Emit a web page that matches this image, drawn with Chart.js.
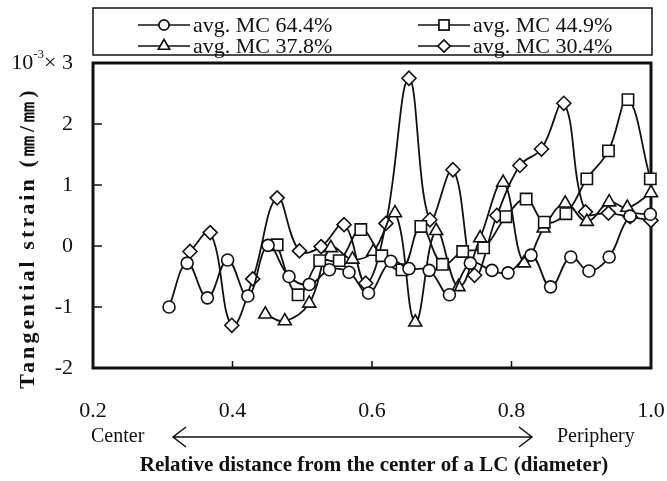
<!DOCTYPE html>
<html>
<head>
<meta charset="utf-8">
<script src="https://cdn.jsdelivr.net/npm/chart.js@4.4.1/dist/chart.umd.min.js"></script>
<style>
  html, body { margin:0; padding:0; background:#fff; }
  canvas { display:block; }
</style>
</head>
<body>
<canvas id="chart" width="667" height="481"></canvas>
<script>
// Tangential strain (x10^-3) vs relative distance
const seriesLabels = ['avg. MC 64.4%', 'avg. MC 44.9%', 'avg. MC 37.8%', 'avg. MC 30.4%'];

const mc644X = [0.309,0.335,0.364,0.393,0.422,0.451,0.481,0.510,0.539,0.567,0.595,0.627,0.653,0.682,0.711,0.741,0.772,0.795,0.828,0.856,0.885,0.911,0.940,0.970,0.999];
const mc644Y = [-1.00,-0.28,-0.85,-0.23,-0.82,0.01,-0.50,-0.63,-0.39,-0.43,-0.77,-0.25,-0.37,-0.40,-0.80,-0.28,-0.40,-0.44,-0.15,-0.67,-0.18,-0.41,-0.18,0.49,0.52];

const mc449X = [0.464,0.494,0.525,0.553,0.584,0.614,0.643,0.670,0.701,0.730,0.760,0.792,0.821,0.847,0.878,0.908,0.939,0.967,0.999];
const mc449Y = [0.02,-0.80,-0.24,-0.24,0.27,-0.16,-0.39,0.32,-0.30,-0.09,-0.03,0.48,0.77,0.39,0.53,1.10,1.56,2.40,1.10];

const mc378X = [0.447,0.475,0.510,0.541,0.572,0.602,0.633,0.662,0.692,0.724,0.755,0.788,0.818,0.846,0.877,0.908,0.940,0.966,1.000];
const mc378Y = [-1.12,-1.23,-0.94,-0.03,-0.22,-0.09,0.54,-1.25,0.25,-0.67,0.13,1.04,-0.28,0.29,0.70,0.40,0.72,0.63,0.87];

const mc304X = [0.339,0.368,0.399,0.429,0.464,0.496,0.527,0.560,0.591,0.620,0.653,0.683,0.716,0.747,0.779,0.812,0.843,0.875,0.906,0.939,0.970,1.000];
const mc304Y = [-0.09,0.22,-1.30,-0.54,0.79,-0.08,-0.01,0.35,-0.61,0.37,2.75,0.43,1.25,-0.48,0.50,1.32,1.59,2.34,0.56,0.54,0.48,0.42];

const xTicks = [0.2, 0.4, 0.6, 0.8, 1.0];
const yTicks = [-2, -1, 0, 1, 2, 3];

const SERIF = "'Liberation Serif', 'DejaVu Serif', serif";
const INK = '#111';

const pts = (xs, ys) => xs.map((x, i) => ({ x, y: ys[i] }));

function series(label, xs, ys, style, r) {
  return {
    label, data: pts(xs, ys),
    borderColor: INK, borderWidth: 1.8,
    pointStyle: style, pointRadius: r,
    pointBackgroundColor: '#fff', pointBorderColor: INK, pointBorderWidth: 1.6,
    tension: 0.4, fill: false, clip: false
  };
}

// frame, inner ticks, legend box and the extra texts
const decor = {
  id: 'decor',
  beforeDatasetsDraw(chart) {
    const { ctx, chartArea: a, scales: { x, y } } = chart;
    ctx.save();
    ctx.strokeStyle = INK;
    ctx.lineWidth = 3;
    ctx.strokeRect(a.left, a.top, a.right - a.left, a.bottom - a.top);
    ctx.lineWidth = 1.5;
    ctx.beginPath();
    yTicks.slice(1, -1).forEach(v => {
      const py = y.getPixelForValue(v);
      ctx.moveTo(a.left, py); ctx.lineTo(a.left + 9, py);
    });
    xTicks.slice(1, -1).forEach(v => {
      const px = x.getPixelForValue(v);
      ctx.moveTo(px, a.bottom); ctx.lineTo(px, a.bottom - 7);
    });
    ctx.stroke();
    ctx.restore();
  },
  afterDraw(chart) {
    const { ctx, chartArea: a } = chart;
    ctx.save();
    ctx.fillStyle = INK;
    ctx.strokeStyle = INK;

    // 10^-3 multiplier in front of the top tick
    ctx.font = `22px ${SERIF}`;
    const top = chart.scales.y.getPixelForValue(3);
    const wx = ctx.measureText('× 3').width;
    const right = a.left - 20 - wx;
    ctx.textBaseline = 'middle';
    ctx.textAlign = 'right';
    ctx.font = `13px ${SERIF}`;
    const wsup = ctx.measureText('-3').width;
    ctx.fillText('-3', right, top - 8);
    ctx.font = `22px ${SERIF}`;
    ctx.fillText('10', right - wsup, top);

    // legend box
    ctx.lineWidth = 1.5;
    ctx.strokeRect(a.left, 8, a.right - a.left + 1, 47);
    const cols = [138, 418];
    const rows = [25, 46];
    chart.data.datasets.forEach((ds, i) => {
      const lx = cols[i % 2], ly = rows[Math.floor(i / 2)];
      ctx.lineWidth = 1.5;
      ctx.beginPath(); ctx.moveTo(lx, ly); ctx.lineTo(lx + 52, ly); ctx.stroke();
      Chart.helpers.drawPoint(ctx, {
        pointStyle: ds.pointStyle, radius: ds.pointRadius - 1, borderWidth: 1.5, rotation: 0
      }, lx + 26, ly);
      ctx.fillStyle = '#fff'; ctx.fill();
      ctx.strokeStyle = INK; ctx.stroke();
      ctx.fillStyle = INK;
      ctx.font = `22px ${SERIF}`;
      ctx.textAlign = 'left';
      ctx.fillText(ds.label, lx + 55, ly + 1);
    });

    // center / periphery arrow
    const ay = 437;
    ctx.font = `20px ${SERIF}`;
    ctx.textAlign = 'left';
    ctx.fillText('Center', 91, ay);
    ctx.fillText('Periphery', 557, ay);
    ctx.lineWidth = 1.5;
    ctx.beginPath();
    ctx.moveTo(173, ay); ctx.lineTo(532, ay);
    ctx.moveTo(186, ay - 10); ctx.lineTo(173, ay); ctx.lineTo(186, ay + 10);
    ctx.moveTo(519, ay - 10); ctx.lineTo(532, ay); ctx.lineTo(519, ay + 10);
    ctx.stroke();

    // axis titles
    ctx.font = `bold 21px ${SERIF}`;
    ctx.textAlign = 'center';
    ctx.fillText('Relative distance from the center of a LC (diameter)', 374, 466);

    const yt = 'Tangential strain (㎜/㎜)';
    ctx.font = `bold 22px ${SERIF}`;
    const w0 = ctx.measureText(yt).width;
    ctx.letterSpacing = Math.max(0, (298 - w0) / (yt.length - 1)).toFixed(1) + 'px';
    ctx.translate(28, 238);
    ctx.rotate(-Math.PI / 2);
    ctx.fillText(yt, 0, 0);
    ctx.restore();
  }
};

new Chart(document.getElementById('chart'), {
  type: 'line',
  data: {
    datasets: [
      series(seriesLabels[0], mc644X, mc644Y, 'circle', 6),
      series(seriesLabels[1], mc449X, mc449Y, 'rect', 8),
      series(seriesLabels[2], mc378X, mc378Y, 'triangle', 7.5),
      series(seriesLabels[3], mc304X, mc304Y, 'rectRot', 7)
    ]
  },
  options: {
    responsive: false,
    animation: false,
    layout: { padding: { top: 63, right: 16, left: 0, bottom: 0 } },
    plugins: { legend: { display: false }, tooltip: { enabled: false } },
    scales: {
      x: {
        type: 'linear', min: 0.2, max: 1.0,
        afterFit: s => { s.height = 113; s.paddingLeft = 0; s.paddingRight = 0; },
        afterBuildTicks: s => { s.ticks = xTicks.map(v => ({ value: v })); },
        grid: { display: false, drawTicks: false }, border: { display: false },
        ticks: { padding: 30, color: INK, font: { family: SERIF, size: 22 }, callback: v => v.toFixed(1) }
      },
      y: {
        min: -2, max: 3,
        afterFit: s => { s.width = 93; s.paddingTop = 0; s.paddingBottom = 0; },
        afterBuildTicks: s => { s.ticks = yTicks.map(v => ({ value: v })); },
        grid: { display: false, drawTicks: false }, border: { display: false },
        ticks: { padding: 20, color: INK, font: { family: SERIF, size: 22 }, callback: v => v === 3 ? '× 3' : String(v) }
      }
    }
  },
  plugins: [decor]
});
</script>
</body>
</html>
